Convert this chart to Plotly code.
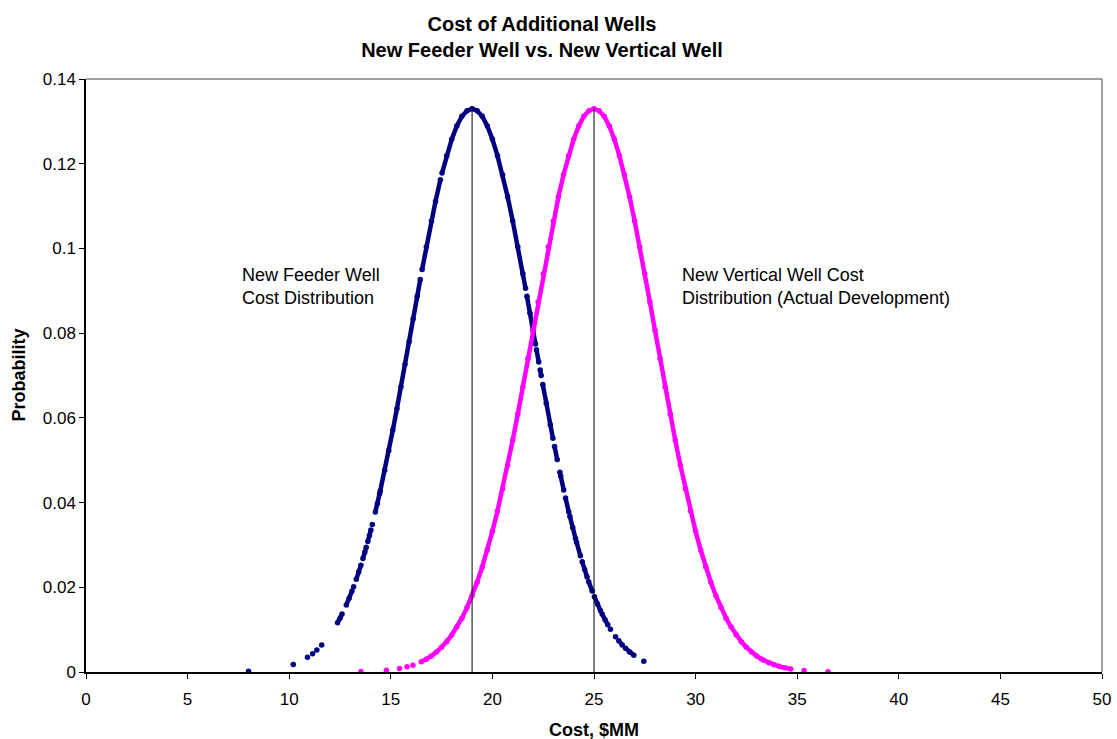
import plotly.graph_objects as go

# ---- New feeder well cost samples ($MM) and their probabilities ----
# Each inner list is a run of samples drawn as one connected stroke.
feeder_x = [
    [8.0], [10.2], [10.9], [11.15], [11.36], [11.6],
    [12.38, 12.5, 12.6],
    [12.81, 12.95, 13.09],
    [13.17],
    [13.3, 13.42, 13.53],
    [13.63, 13.72, 13.79],
    [13.87, 13.95, 14.02],
    [14.09],
    [14.24, 14.34, 14.45],
    [14.48, 14.7, 14.9, 15.1, 15.3, 15.5, 15.7, 15.9, 16.1, 16.3, 16.45],
    [16.54, 16.75, 17.0, 17.2, 17.44],
    [17.52, 17.75, 18.0, 18.25, 18.5, 18.75, 19.0, 19.25, 19.5, 19.75,
     20.0, 20.25, 20.5, 20.75, 21.0, 21.25, 21.5, 21.63],
    [21.7, 21.85, 22.0, 22.12],
    [22.17, 22.28],
    [22.35, 22.4],
    [22.48, 22.65, 22.85, 22.98],
    [23.06, 23.19],
    [23.32],
    [23.36, 23.51],
    [23.6, 23.76],
    [23.81, 23.95, 24.09],
    [24.14, 24.33],
    [24.42, 24.54, 24.66],
    [24.74, 24.91],
    [25.02, 25.17, 25.32],
    [25.4, 25.55, 25.68],
    [25.81], [26.06],
    [26.22, 26.39],
    [26.55, 26.75, 26.96],
    [27.45],
]
feeder_p = [
    [0.00016], [0.0018], [0.0035], [0.0043], [0.0052], [0.0064],
    [0.01165, 0.0127, 0.01367],
    [0.01583, 0.01741, 0.0191],
    [0.02013],
    [0.02187, 0.02358, 0.02523],
    [0.0268, 0.02826, 0.02944],
    [0.03082, 0.03225, 0.03353],
    [0.03485],
    [0.03777, 0.0398, 0.04211],
    [0.04275, 0.04761, 0.05227, 0.05713, 0.06216, 0.0673, 0.07263, 0.07798,
     0.08336, 0.08871, 0.09267],
    [0.09502, 0.1004, 0.1065, 0.1111, 0.1162],
    [0.1178, 0.1219, 0.1258, 0.1289, 0.1312, 0.1325, 0.133, 0.1325, 0.1312,
     0.1289, 0.1258, 0.1219, 0.1174, 0.1122, 0.1065, 0.1004, 0.094, 0.09057],
    [0.08871, 0.0847, 0.0807, 0.07744],
    [0.0761, 0.07316],
    [0.0713, 0.06998],
    [0.06787, 0.06345, 0.05838, 0.05517],
    [0.05323, 0.05015],
    [0.04716],
    [0.04626, 0.04296],
    [0.04105, 0.03777],
    [0.03679, 0.03409, 0.03153],
    [0.03065, 0.02745],
    [0.02601, 0.02418, 0.02244],
    [0.02133, 0.0191],
    [0.01776, 0.01604, 0.01446],
    [0.01367, 0.01226, 0.01115],
    [0.01011], [0.00834],
    [0.00735, 0.0064],
    [0.0056, 0.00473, 0.00394],
    [0.00252],
]

# ---- New vertical well cost samples ($MM) and their probabilities ----
vertical_x = [
    [13.53], [14.78], [15.43], [15.8], [16.09],
    [16.5, 16.75, 17.0, 17.25, 17.5, 17.75, 18.0, 18.25, 18.5, 18.75,
     19.0, 19.25, 19.5, 19.75, 20.0, 20.25, 20.5, 20.75, 21.0, 21.25,
     21.5, 21.75, 22.0, 22.25, 22.5, 22.75, 23.0, 23.25, 23.5, 23.75,
     24.0, 24.25, 24.5, 24.75, 25.0, 25.25, 25.5, 25.75, 26.0, 26.25,
     26.5, 26.75, 27.0, 27.25, 27.5, 27.75, 28.0, 28.25, 28.5, 28.75,
     29.0, 29.25, 29.5, 29.75, 30.0, 30.25, 30.5, 30.75, 31.0, 31.25,
     31.5, 31.75, 32.0, 32.25, 32.5, 32.75, 33.0, 33.25],
    [33.35, 33.6, 33.85, 34.1, 34.4, 34.68],
    [35.34], [36.52],
]
vertical_p = [
    [0.000089], [0.0004], [0.00082], [0.00121], [0.00162],
    [0.0024, 0.00303, 0.0038, 0.00473, 0.00584, 0.00717, 0.00874, 0.0106,
     0.0127, 0.0152, 0.018, 0.0212, 0.0248, 0.0288, 0.0332, 0.038, 0.0432,
     0.0488, 0.0547, 0.0609, 0.0673, 0.074, 0.0807, 0.0874, 0.094, 0.1004,
     0.1065, 0.1122, 0.1174, 0.1219, 0.1258, 0.1289, 0.1312, 0.1325, 0.133,
     0.1325, 0.1312, 0.1289, 0.1258, 0.1219, 0.1174, 0.1122, 0.1065, 0.1004,
     0.094, 0.0874, 0.0807, 0.074, 0.0673, 0.0609, 0.0547, 0.0488, 0.0432,
     0.038, 0.0332, 0.0288, 0.0248, 0.0212, 0.018, 0.0152, 0.0127, 0.0106,
     0.00874, 0.00717, 0.00584, 0.00473, 0.0038, 0.00303],
    [0.00276, 0.00219, 0.00171, 0.00134, 0.00098, 0.00073],
    [0.00035], [0.000084],
]

# Mean cost markers (vertical reference lines)
mean_costs = [19.0, 25.0]
mean_peaks = [0.133, 0.133]

x_ticks = [0, 5, 10, 15, 20, 25, 30, 35, 40, 45, 50]
y_ticks = [0, 0.02, 0.04, 0.06, 0.08, 0.1, 0.12, 0.14]
y_tick_text = ["0", "0.02", "0.04", "0.06", "0.08", "0.1", "0.12", "0.14"]

FONT = "Liberation Sans, Arial, sans-serif"

# Page and plot-area geometry (px)
W, H = 1117, 739
M_L, M_R, M_T, M_B = 86, 15, 79, 67
PLOT_W, PLOT_H = W - M_L - M_R, H - M_T - M_B


def join_runs(runs):
    """Flatten runs into one array, separated by None so runs stay apart."""
    out = []
    for i, run in enumerate(runs):
        if i:
            out.append(None)
        out.extend(run)
    return out


fig = go.Figure()

fig.add_trace(go.Scatter(
    x=join_runs(feeder_x), y=join_runs(feeder_p),
    mode="lines+markers", connectgaps=False,
    line=dict(color="#000080", width=4.5),
    marker=dict(color="#000080", size=5.5),
    name="New Feeder Well", hoverinfo="x+y",
))
fig.add_trace(go.Scatter(
    x=join_runs(vertical_x), y=join_runs(vertical_p),
    mode="lines+markers", connectgaps=False,
    line=dict(color="#FF00FF", width=4.5),
    marker=dict(color="#FF00FF", size=5.5),
    name="New Vertical Well", hoverinfo="x+y",
))
for mx, mp in zip(mean_costs, mean_peaks):
    fig.add_trace(go.Scatter(
        x=[mx, mx], y=[0, mp], mode="lines",
        line=dict(color="black", width=1), hoverinfo="skip",
    ))

fig.update_layout(
    width=W, height=H,
    margin=dict(l=M_L, r=M_R, t=M_T, b=M_B, autoexpand=False),
    paper_bgcolor="white", plot_bgcolor="white",
    showlegend=False,
    font=dict(family=FONT, size=17, color="black"),
    title=dict(
        text="<b>Cost of Additional Wells<br>New Feeder Well vs. New Vertical Well</b>",
        x=542 / W, xanchor="center", xref="container",
        y=1 - 31 / H, yanchor="middle", yref="container",
        font=dict(family=FONT, size=20, color="black"),
    ),
    xaxis=dict(
        range=[0, 50], tickvals=x_ticks, ticktext=[str(v) for v in x_ticks],
        showgrid=False, zeroline=False, automargin=False,
        showline=True, linecolor="black", linewidth=1.5,
        ticks="outside", ticklen=5, tickcolor="black", tickwidth=1,
        ticklabelstandoff=6,
        tickfont=dict(family=FONT, size=17),
    ),
    yaxis=dict(
        range=[0, 0.14], tickvals=y_ticks, ticktext=y_tick_text,
        showgrid=False, zeroline=False, automargin=False,
        showline=True, linecolor="black", linewidth=1.5,
        ticks="outside", ticklen=5, tickcolor="black", tickwidth=1,
        tickfont=dict(family=FONT, size=17),
    ),
    shapes=[
        dict(type="line", xref="paper", yref="paper", x0=0, x1=1, y0=1, y1=1,
             line=dict(color="#808080", width=1.5)),
        dict(type="line", xref="paper", yref="paper", x0=1, x1=1, y0=0, y1=1,
             line=dict(color="#808080", width=1.5)),
    ],
    annotations=[
        # axis titles
        dict(text="<b>Cost, $MM</b>", xref="paper", yref="paper",
             x=0.5, y=-(730 - (H - M_B)) / PLOT_H,
             xanchor="center", yanchor="middle", showarrow=False,
             font=dict(family=FONT, size=18)),
        dict(text="<b>Probability</b>", xref="paper", yref="paper",
             x=-(M_L - 18) / PLOT_W, y=0.5, textangle=-90,
             xanchor="center", yanchor="middle", showarrow=False,
             font=dict(family=FONT, size=18)),
        # curve labels
        dict(text="New Feeder Well<br>Cost Distribution",
             x=7.58, y=0.0909, xref="x", yref="y",
             xanchor="left", yanchor="middle", align="left", showarrow=False,
             font=dict(family=FONT, size=18)),
        dict(text="New Vertical Well Cost<br>Distribution (Actual Development)",
             x=29.23, y=0.0909, xref="x", yref="y",
             xanchor="left", yanchor="middle", align="left", showarrow=False,
             font=dict(family=FONT, size=18)),
    ],
)

fig.write_html("out.html")
